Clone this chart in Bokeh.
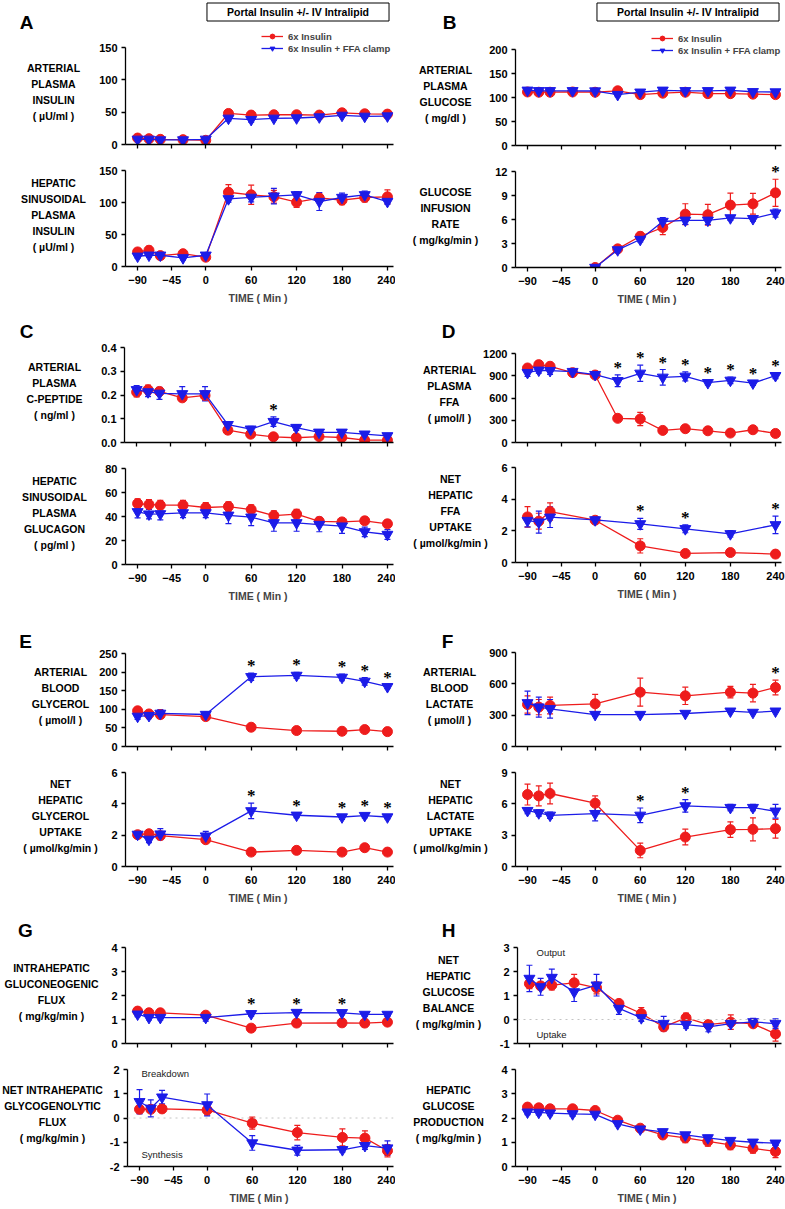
from bokeh.plotting import figure
from bokeh.layouts import row, column
from bokeh.models import (ColumnDataSource, Whisker, TeeHead, FixedTicker, PrintfTickFormatter,
                          Label, LabelSet, Legend, LegendItem, Span, Range1d)
from bokeh.core.properties import value
from bokeh.embed import file_html
from bokeh.resources import INLINE

RED = "#ee1c1c"
BLUE = "#1c1ce8"
FONT = "Liberation Sans"

X_TICKS = [-90, -45, 0, 60, 120, 180, 240]
SERIES_NAMES = ["6x Insulin", "6x Insulin + FFA clamp"]
HEADER = "Portal Insulin +/- IV Intralipid"
X_LABEL = "TIME  ( Min )"

T_FULL = [-90, -75, -60, -30, 0, 30, 60, 90, 120, 150, 180, 210, 240]
T_GIR = [0, 30, 60, 90, 120, 150, 180, 210, 240]
T_FFA = [-90, -75, -60, 0, 60, 120, 180, 240]
T_SPARSE = [-90, -75, -60, 0, 60, 120, 180, 210, 240]

# A: arterial plasma insulin
ins_art_red = [10, 9, 8, 7.5, 6.5, 48, 45.5, 46, 46, 45.5, 49, 47.5, 47]
ins_art_red_err = [3, 2, 2, 2, 2, 4, 3, 3, 3, 3, 3, 3, 3]
ins_art_blue = [8, 8, 7, 7, 8, 40.5, 38.5, 40.5, 41, 42.5, 45, 43.5, 44]
ins_art_blue_err = [2, 2, 2, 2, 2, 4, 4, 3, 3, 3, 3, 3, 3]
# A: hepatic sinusoidal insulin
ins_sin_red = [22.8, 25.4, 17, 20, 14.5, 116, 112, 109, 100.5, 107, 103.6, 107.8, 108.8]
ins_sin_red_err = [4, 6, 4, 4, 3, 12, 15, 10, 8, 6, 7, 7, 11]
ins_sin_blue = [16, 17.6, 17.6, 13.5, 17.6, 105.7, 108, 110, 112, 101.5, 107.8, 112, 101.5]
ins_sin_blue_err = [3, 3, 3, 3, 3, 5, 7, 12, 5, 14, 7, 6, 4]
# B: arterial plasma glucose
glu_red = [111.5, 111, 111, 111.5, 111, 114, 106, 109, 111, 108, 108, 107, 106]
glu_red_err = [2, 2, 2, 2, 2, 2, 3, 2, 2, 2, 2, 2, 3]
glu_blue = [115, 114, 114, 114, 113.5, 106, 111, 115, 114, 114, 115, 112, 111.5]
glu_blue_err = [2, 2, 2, 2, 2, 4, 2, 2, 2, 2, 2, 2, 2]
# B: glucose infusion rate
gir_red = [0, 2.33, 3.9, 5.0, 6.67, 6.6, 7.8, 7.96, 9.33]
gir_red_err = [0.05, 0.3, 0.5, 0.9, 1.3, 1.3, 1.5, 1.3, 1.7]
gir_blue = [0, 2.2, 3.5, 5.75, 5.9, 5.9, 6.2, 6.1, 6.8]
gir_blue_err = [0.05, 0.2, 0.3, 0.5, 0.5, 0.5, 0.3, 0.3, 0.5]
# C: arterial c-peptide
cpep_red = [0.212, 0.222, 0.215, 0.188, 0.198, 0.052, 0.035, 0.024, 0.02, 0.025, 0.021, 0.01, 0.01]
cpep_red_err = [0.02, 0.02, 0.015, 0.015, 0.02, 0.01, 0.01, 0.008, 0.008, 0.008, 0.008, 0.005, 0.005]
cpep_blue = [0.222, 0.213, 0.207, 0.205, 0.205, 0.075, 0.056, 0.088, 0.063, 0.043, 0.043, 0.035, 0.028]
cpep_blue_err = [0.018, 0.02, 0.025, 0.03, 0.03, 0.012, 0.012, 0.02, 0.012, 0.01, 0.01, 0.008, 0.008]
# C: hepatic sinusoidal glucagon
gcg_red = [50.8, 50, 49.4, 49.4, 47.5, 48.3, 45.8, 40.8, 42, 36, 35.5, 36.4, 33.9]
gcg_red_err = [4, 4, 4, 4, 4, 4, 4, 4, 4, 3, 3, 3, 3]
gcg_blue = [43.9, 42, 42.2, 43, 43, 41, 39.4, 34.7, 34.7, 33.3, 32, 27.2, 25]
gcg_blue_err = [5, 4, 5, 4, 4, 7, 7, 7, 7, 6, 6, 4, 4]
# D: arterial plasma FFA
ffa_red = [1005, 1050, 1028, 942, 910, 326, 317, 163, 186, 158, 127, 172, 122]
ffa_red_err = [40, 50, 40, 40, 40, 30, 90, 30, 30, 30, 30, 30, 30]
ffa_blue = [942, 974, 969, 956, 915, 833, 933, 879, 892, 806, 838, 801, 901]
ffa_blue_err = [50, 40, 50, 40, 40, 80, 110, 105, 60, 30, 45, 30, 40]
# D: net hepatic FFA uptake
nhffa_red = [2.88, 2.61, 3.22, 2.67, 1.05, 0.57, 0.63, 0.53]
nhffa_red_err = [0.65, 0.5, 0.55, 0.2, 0.45, 0.15, 0.15, 0.1]
nhffa_blue = [2.65, 2.55, 2.86, 2.69, 2.44, 2.13, 1.81, 2.38]
nhffa_blue_err = [0.4, 0.7, 0.65, 0.2, 0.35, 0.25, 0.2, 0.55]
# E: arterial blood glycerol
gly_red = [96, 87.5, 85.7, 80.4, 51.8, 42.9, 41, 45.5, 40]
gly_red_err = [8, 5, 5, 5, 5, 4, 4, 4, 4]
gly_blue = [81, 83, 89, 86, 187.5, 191, 185.7, 175, 160.7]
gly_blue_err = [8, 8, 10, 5, 10, 8, 9, 10, 5]
# E: net hepatic glycerol uptake
nhgly_red = [2.03, 2.09, 1.97, 1.71, 0.92, 1.03, 0.92, 1.2, 0.92]
nhgly_red_err = [0.1, 0.1, 0.1, 0.1, 0.1, 0.1, 0.1, 0.2, 0.15]
nhgly_blue = [2.05, 1.73, 2.07, 1.94, 3.55, 3.27, 3.16, 3.25, 3.16]
nhgly_blue_err = [0.1, 0.2, 0.35, 0.3, 0.5, 0.15, 0.15, 0.15, 0.12]
# F: arterial blood lactate
lac_red = [402, 377, 393, 409, 520, 485, 520, 511, 565]
lac_red_err = [83, 73, 80, 90, 134, 83, 55, 83, 70]
lac_blue = [418, 377, 361, 306, 306, 316, 338, 326, 338]
lac_blue_err = [112, 96, 89, 15, 12, 12, 12, 12, 12]
# F: net hepatic lactate uptake
nhlac_red = [6.89, 6.76, 6.99, 6.06, 1.54, 2.82, 3.53, 3.56, 3.62]
nhlac_red_err = [1.0, 0.95, 1.0, 0.7, 0.7, 0.75, 0.75, 1.1, 0.9]
nhlac_blue = [5.35, 5.13, 4.9, 5.06, 4.9, 5.8, 5.64, 5.64, 5.29]
nhlac_blue_err = [0.3, 0.3, 0.3, 0.7, 0.7, 0.6, 0.3, 0.3, 0.65]
# G: intrahepatic gluconeogenic flux
gng_red = [1.35, 1.28, 1.28, 1.18, 0.64, 0.85, 0.86, 0.85, 0.89]
gng_red_err = [0.1, 0.05, 0.05, 0.05, 0.08, 0.08, 0.08, 0.15, 0.08]
gng_blue = [1.22, 1.08, 1.08, 1.08, 1.24, 1.29, 1.28, 1.21, 1.21]
gng_blue_err = [0.1, 0.1, 0.1, 0.15, 0.1, 0.08, 0.08, 0.08, 0.08]
# G: net intrahepatic glycogenolytic flux
ggl_red = [0.36, 0.36, 0.375, 0.33, -0.21, -0.6, -0.8, -0.83, -1.35]
ggl_red_err = [0.15, 0.1, 0.1, 0.2, 0.25, 0.3, 0.35, 0.3, 0.25]
ggl_blue = [0.67, 0.4, 0.86, 0.54, -1.03, -1.33, -1.31, -1.14, -1.24]
ggl_blue_err = [0.5, 0.35, 0.28, 0.45, 0.3, 0.2, 0.1, 0.15, 0.3]
# H: net hepatic glucose balance
nhgb_red = [1.49, 1.4, 1.43, 1.53, 1.32, 0.67, 0.25, -0.31, 0.07, -0.21, -0.11, -0.18, -0.6]
nhgb_red_err = [0.2, 0.15, 0.2, 0.35, 0.25, 0.05, 0.25, 0.1, 0.2, 0.15, 0.3, 0.1, 0.3]
nhgb_blue = [1.71, 1.36, 1.75, 1.15, 1.43, 0.46, 0.07, -0.17, -0.21, -0.31, -0.17, -0.1, -0.17]
nhgb_blue_err = [0.55, 0.35, 0.35, 0.4, 0.45, 0.25, 0.15, 0.3, 0.15, 0.2, 0.1, 0.15, 0.2]
# H: hepatic glucose production
hgp_red = [2.45, 2.42, 2.38, 2.38, 2.31, 1.91, 1.58, 1.3, 1.18, 1.04, 0.89, 0.75, 0.62]
hgp_red_err = [0.1, 0.1, 0.1, 0.1, 0.1, 0.1, 0.1, 0.15, 0.2, 0.2, 0.2, 0.2, 0.25]
hgp_blue = [2.24, 2.23, 2.2, 2.17, 2.15, 1.76, 1.54, 1.43, 1.3, 1.18, 1.07, 1.0, 0.96]
hgp_blue_err = [0.1, 0.1, 0.1, 0.1, 0.1, 0.1, 0.1, 0.1, 0.1, 0.1, 0.1, 0.1, 0.1]

STARS_B2 = [240]
STARS_C1 = [90]
STARS_D1 = [30, 60, 90, 120, 150, 180, 210, 240]
STARS_D2 = [60, 120, 240]
STARS_E1 = [60, 120, 180, 210, 240]
STARS_E2 = [60, 120, 180, 210, 240]
STARS_F1 = [240]
STARS_F2 = [60, 120]
STARS_G1 = [60, 120, 180]

TOP_BB = 12      # bottom border of upper plots (ticks only)
BOT_BB = 42      # bottom border of lower plots (tick labels + title)


def style_axis(ax):
    ax.axis_line_color = "black"
    ax.axis_line_width = 1.3
    ax.major_tick_line_color = "black"
    ax.major_tick_line_width = 1.3
    ax.major_tick_out = 4
    ax.major_tick_in = 0
    ax.minor_tick_out = 0
    ax.minor_tick_in = 0
    ax.major_label_text_font = FONT
    ax.major_label_text_font_style = "bold"
    ax.major_label_text_font_size = "11px"
    ax.major_label_text_color = "black"


def make_panel(col, Yf, Ya, Yb, bottom, bl, ylim, yticks, fmt, lines, lab_cx,
               t, red, red_err, blue, blue_err, stars=None, legend=None, zero=False,
               notes=None, letter=None, header=None, lab_size="10.5px"):
    bb = BOT_BB if bottom else TOP_BB
    H = Yb - Yf + bb
    if col == 0:
        col_x, frame_left, fw, br = 0, 124, 269, 2
    else:
        col_x, frame_left, fw, br = 395, 514, 267, 4
    LW = frame_left - col_x - bl
    y0, y1 = ylim
    y_end = y1 + (y1 - y0) * (Ya - Yf) / (Yb - Ya)

    # --- left text strip (y labels, panel letter); frame aligned with the plot frame
    q = figure(width=LW, height=H, x_range=Range1d(0, LW), y_range=Range1d(Yb - Yf, 0),
               x_axis_type=None, y_axis_type=None, output_backend="svg",
               toolbar_location=None)
    q.min_border_left = 0
    q.min_border_right = 0
    q.min_border_top = 0
    q.min_border_bottom = bb
    q.outline_line_color = None
    q.grid.visible = False
    n = len(lines)
    cy = (Ya + Yb) / 2 - 4 - Yf
    q.text(x=[lab_cx - col_x] * n, y=[cy + (i - (n - 1) / 2) * 16 for i in range(n)], text=lines,
           text_align="center", text_baseline="middle", text_font=value(FONT),
           text_font_style="bold", text_font_size=lab_size, text_color="black")
    if letter:
        ltxt, lx, ly = letter
        q.text(x=[lx - col_x], y=[ly - Yf], text=[ltxt], text_align="center",
               text_baseline="middle", text_font=value(FONT), text_font_style="bold",
               text_font_size="19px", text_color="black")

    # --- plot
    p = figure(width=bl + fw + br, height=H,
               x_range=Range1d(-106, 248), y_range=Range1d(y0, y_end),
               output_backend="svg", toolbar_location=None)
    p.min_border_left = bl
    p.min_border_right = br
    p.min_border_top = 0
    p.min_border_bottom = bb
    p.outline_line_color = None
    p.grid.visible = False
    p.xaxis.ticker = FixedTicker(ticks=X_TICKS)
    p.yaxis.ticker = FixedTicker(ticks=yticks)
    p.yaxis.formatter = PrintfTickFormatter(format=fmt)
    p.yaxis.bounds = (y0, y1)
    style_axis(p.xaxis[0])
    style_axis(p.yaxis[0])
    p.yaxis.major_label_standoff = 4
    if bottom:
        p.xaxis.major_label_standoff = 5
        p.xaxis.axis_label = X_LABEL
        p.xaxis.axis_label_text_font = FONT
        p.xaxis.axis_label_text_font_style = "bold"
        p.xaxis.axis_label_text_font_size = "10.5px"
        p.xaxis.axis_label_standoff = 5
    else:
        p.xaxis.major_label_overrides = {tk: "" for tk in X_TICKS}
        p.xaxis.major_label_text_font_size = "4px"
        p.xaxis.major_label_standoff = 0

    if zero:
        p.add_layout(Span(location=0, dimension="width", line_color="#c4c4c4",
                          line_dash="dotted", line_width=1))

    renders = []
    for vals, errs, color, marker, size in ((red, red_err, RED, "circle", 10),
                                            (blue, blue_err, BLUE, "inverted_triangle", 11)):
        src = ColumnDataSource(dict(t=t, y=vals,
                                    lo=[v - e for v, e in zip(vals, errs)],
                                    hi=[v + e for v, e in zip(vals, errs)]))
        w = Whisker(source=src, base="t", upper="hi", lower="lo", line_color=color,
                    line_width=1.2,
                    upper_head=TeeHead(size=6, line_color=color, line_width=1.2),
                    lower_head=TeeHead(size=6, line_color=color, line_width=1.2))
        p.add_layout(w)
        lr = p.line("t", "y", source=src, line_color=color, line_width=1.3)
        sr = p.scatter("t", "y", source=src, marker=marker, size=size,
                       fill_color=color, line_color=color)
        renders.append((lr, sr))

    if stars:
        tops = []
        for s in stars:
            i = t.index(s)
            tops.append(max(red[i] + red_err[i], blue[i] + blue_err[i]))
        ssrc = ColumnDataSource(dict(x=stars, y=tops, s=["*"] * len(stars)))
        p.add_layout(LabelSet(x="x", y="y", text="s", source=ssrc, text_align="center",
                              text_baseline="alphabetic", y_offset=2,
                              text_font=FONT, text_font_style="bold",
                              text_font_size="17px", text_color="black"))

    if notes:
        for txt, nx, ny in notes:
            p.add_layout(Label(x=nx, y=ny, x_units="screen", y_units="screen", text=txt,
                               text_align="left", text_baseline="middle", text_font=FONT,
                               text_font_size="9.5px", text_color="#222222"))

    if header:
        p.add_layout(Label(x=172.5, y=Yb - header, x_units="screen", y_units="screen",
                           text=HEADER, text_align="center", text_baseline="middle",
                           text_font=FONT, text_font_style="bold", text_font_size="10.5px",
                           text_color="black", border_line_color="black",
                           border_line_width=1, background_fill_color="white",
                           padding=(20, 3)))

    if legend:
        items = [LegendItem(label=SERIES_NAMES[0], renderers=list(renders[0])),
                 LegendItem(label=SERIES_NAMES[1], renderers=list(renders[1]))]
        lg = Legend(items=items, location=(136, Yb - legend), padding=0, margin=0, spacing=0,
                    label_height=12, glyph_height=12, glyph_width=22, label_standoff=5,
                    label_text_font=FONT, label_text_font_style="bold",
                    label_text_font_size="9.5px", border_line_color=None,
                    background_fill_alpha=0)
        p.add_layout(lg)
    return row(q, p)


left = column(
    make_panel(0, 0, 47, 144, False, 28, (0, 150), [0, 50, 100, 150], "%d",
               ["ARTERIAL", "PLASMA", "INSULIN", "( µU/ml )"], 53,
               T_FULL, ins_art_red, ins_art_red_err, ins_art_blue, ins_art_blue_err,
               legend=54, letter=("A", 26, 22), header=11.5),
    make_panel(0, 156, 170, 266, True, 28, (0, 150), [0, 50, 100, 150], "%d",
               ["HEPATIC", "SINUSOIDAL", "PLASMA", "INSULIN", "( µU/ml )"], 53,
               T_FULL, ins_sin_red, ins_sin_red_err, ins_sin_blue, ins_sin_blue_err),
    make_panel(0, 308, 347, 442, False, 26, (0, 0.4), [0, 0.1, 0.2, 0.3, 0.4], "%.1f",
               ["ARTERIAL", "PLASMA", "C-PEPTIDE", "( ng/ml )"], 54,
               T_FULL, cpep_red, cpep_red_err, cpep_blue, cpep_blue_err,
               stars=STARS_C1, letter=("C", 26, 331)),
    make_panel(0, 454, 468, 564, True, 22, (0, 80), [0, 20, 40, 60, 80], "%d",
               ["HEPATIC", "SINUSOIDAL", "PLASMA", "GLUCAGON", "( pg/ml )"], 54,
               T_FULL, gcg_red, gcg_red_err, gcg_blue, gcg_blue_err),
    make_panel(0, 606, 653, 746, False, 28, (0, 250), [0, 50, 100, 150, 200, 250], "%d",
               ["ARTERIAL", "BLOOD", "GLYCEROL", "( µmol/l )"], 60,
               T_SPARSE, gly_red, gly_red_err, gly_blue, gly_blue_err,
               stars=STARS_E1, letter=("E", 25, 641)),
    make_panel(0, 758, 772, 866, True, 16, (0, 6), [0, 2, 4, 6], "%d",
               ["NET", "HEPATIC", "GLYCEROL", "UPTAKE", "( µmol/kg/min )"], 60,
               T_SPARSE, nhgly_red, nhgly_red_err, nhgly_blue, nhgly_blue_err,
               stars=STARS_E2),
    make_panel(0, 908, 947, 1043, False, 16, (0, 4), [0, 1, 2, 3, 4], "%d",
               ["INTRAHEPATIC", "GLUCONEOGENIC", "FLUX", "( mg/kg/min )"], 51,
               T_SPARSE, gng_red, gng_red_err, gng_blue, gng_blue_err,
               stars=STARS_G1, letter=("G", 25, 930)),
    make_panel(0, 1055, 1069, 1166, True, 18, (-2, 2), [-2, -1, 0, 1, 2], "%d",
               ["NET INTRAHEPATIC", "GLYCOGENOLYTIC", "FLUX", "( mg/kg/min )"], 52,
               T_SPARSE, ggl_red, ggl_red_err, ggl_blue, ggl_blue_err, zero=True,
               notes=[("Breakdown", 14, 93), ("Synthesis", 14, 12)]),
)

right = column(
    make_panel(1, 0, 49, 145, False, 28, (0, 200), [0, 50, 100, 150, 200], "%d",
               ["ARTERIAL", "PLASMA", "GLUCOSE", "( mg/dl )"], 445,
               T_FULL, glu_red, glu_red_err, glu_blue, glu_blue_err,
               legend=56, letter=("B", 449, 22), header=11.5),
    make_panel(1, 157, 171, 267, True, 22, (0, 12), [0, 3, 6, 9, 12], "%d",
               ["GLUCOSE", "INFUSION", "RATE", "( mg/kg/min )"], 445,
               T_GIR, gir_red, gir_red_err, gir_blue, gir_blue_err, stars=STARS_B2),
    make_panel(1, 309, 353, 442, False, 34, (0, 1200), [0, 300, 600, 900, 1200], "%d",
               ["ARTERIAL", "PLASMA", "FFA", "( µmol/l )"], 449,
               T_FULL, ffa_red, ffa_red_err, ffa_blue, ffa_blue_err,
               stars=STARS_D1, letter=("D", 448, 331)),
    make_panel(1, 454, 467, 562, True, 16, (0, 6), [0, 2, 4, 6], "%d",
               ["NET", "HEPATIC", "FFA", "UPTAKE", "( µmol/kg/min )"], 450,
               T_FFA, nhffa_red, nhffa_red_err, nhffa_blue, nhffa_blue_err,
               stars=STARS_D2),
    make_panel(1, 604, 652, 746, False, 28, (0, 900), [0, 300, 600, 900], "%d",
               ["ARTERIAL", "BLOOD", "LACTATE", "( µmol/l )"], 449,
               T_SPARSE, lac_red, lac_red_err, lac_blue, lac_blue_err,
               stars=STARS_F1, letter=("F", 447, 641)),
    make_panel(1, 758, 772, 866, True, 16, (0, 9), [0, 3, 6, 9], "%d",
               ["NET", "HEPATIC", "LACTATE", "UPTAKE", "( µmol/kg/min )"], 450,
               T_SPARSE, nhlac_red, nhlac_red_err, nhlac_blue, nhlac_blue_err,
               stars=STARS_F2),
    make_panel(1, 908, 947, 1043, False, 18, (-1, 3), [-1, 0, 1, 2, 3], "%d",
               ["NET", "HEPATIC", "GLUCOSE", "BALANCE", "( mg/kg/min )"], 448,
               T_FULL, nhgb_red, nhgb_red_err, nhgb_blue, nhgb_blue_err, zero=True,
               letter=("H", 448, 930), notes=[("Output", 19, 91), ("Uptake", 19, 9)]),
    make_panel(1, 1055, 1069, 1166, True, 16, (0, 4), [0, 1, 2, 3, 4], "%d",
               ["HEPATIC", "GLUCOSE", "PRODUCTION", "( mg/kg/min )"], 448,
               T_FULL, hgp_red, hgp_red_err, hgp_blue, hgp_blue_err),
)

layout = row(left, right)

open("out.html", "w").write(file_html(layout, INLINE))
